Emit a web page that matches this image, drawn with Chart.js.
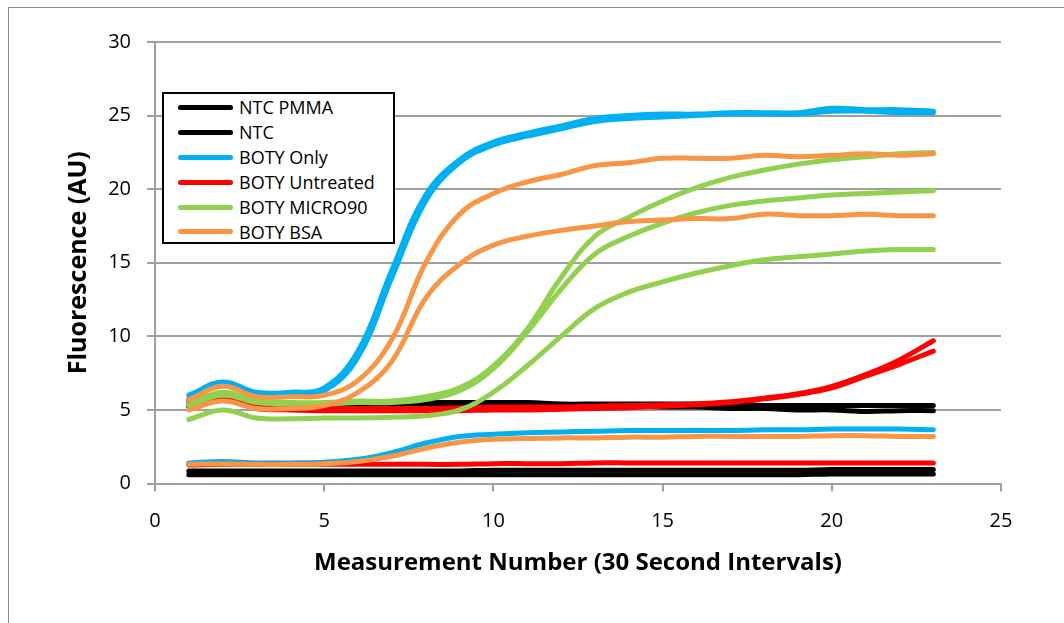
<!DOCTYPE html>
<html>
<head>
<meta charset="utf-8">
<script src="https://cdn.jsdelivr.net/npm/chart.js@4.4.1/dist/chart.umd.min.js"></script>
<style>
    html, body { margin: 0; padding: 0; background: #fff; overflow: hidden; }
    #wrap { position: relative; width: 1064px; height: 623px; }
    #frame { position: absolute; left: 8px; top: 7px; width: 1120px; height: 700px; border: 1px solid #8c8c8c; box-sizing: border-box; }
    #chart { position: absolute; left: 0; top: 0; }
    #legend {
        position: absolute; left: 162px; top: 92px; width: 233px; height: 152px;
        border: 2px solid #000; background: #fff; box-sizing: border-box;
        font-family: 'Open Sans', sans-serif; font-size: 18px; color: #000;
    }
    #legend .item { height: 24.9px; display: flex; align-items: center; }
    #legend .item:first-child { margin-top: 1px; }
    #legend .swatch { width: 55px; height: 5px; border-radius: 3px; margin-left: 14px; margin-right: 6px; }
</style>
</head>
<body>
<div id="wrap">
    <div id="frame"></div>
    <canvas id="chart" width="1064" height="623"></canvas>
    <div id="legend"></div>
</div>
<script>
'use strict';

// Measurement number (x)
const measurement = [1, 2, 3, 4, 5, 6, 7, 8, 9, 10, 11, 12, 13, 14, 15, 16, 17, 18, 19, 20, 21, 22, 23];

// NTC PMMA
const ntcPmmaA = [5.4, 5.9, 5.4, 5.4, 5.4, 5.4, 5.4, 5.5, 5.5, 5.5, 5.5, 5.4, 5.4, 5.4, 5.4, 5.4, 5.4, 5.3, 5.3, 5.3, 5.3, 5.3, 5.3];
const ntcPmmaB = [0.85, 0.85, 0.85, 0.85, 0.85, 0.85, 0.85, 0.85, 0.85, 0.9, 0.9, 0.9, 0.9, 0.9, 0.9, 0.9, 0.9, 0.9, 0.9, 0.95, 0.95, 0.95, 0.95];
// NTC
const ntcA = [5.2, 5.7, 5.2, 5.2, 5.2, 5.2, 5.2, 5.3, 5.3, 5.3, 5.3, 5.3, 5.3, 5.3, 5.2, 5.2, 5.1, 5.1, 5.0, 5.0, 4.9, 4.95, 4.95];
const ntcB = [0.6, 0.6, 0.6, 0.6, 0.6, 0.6, 0.6, 0.6, 0.6, 0.6, 0.6, 0.6, 0.6, 0.6, 0.6, 0.6, 0.6, 0.6, 0.6, 0.65, 0.65, 0.65, 0.65];
// BOTY Only
const onlyA = [6.0, 6.9, 6.2, 6.2, 6.5, 9.0, 14.5, 19.6, 22.0, 23.2, 23.8, 24.3, 24.8, 25.0, 25.1, 25.1, 25.2, 25.2, 25.2, 25.5, 25.4, 25.4, 25.3];
const onlyB = [5.8, 6.7, 6.0, 6.0, 6.3, 8.6, 14.0, 19.2, 21.8, 23.0, 23.6, 24.1, 24.6, 24.8, 24.9, 25.0, 25.1, 25.1, 25.1, 25.3, 25.3, 25.2, 25.2];
const onlyC = [1.4, 1.5, 1.4, 1.4, 1.45, 1.65, 2.1, 2.75, 3.2, 3.35, 3.45, 3.5, 3.55, 3.6, 3.6, 3.6, 3.6, 3.65, 3.65, 3.7, 3.7, 3.7, 3.65];
// BOTY Untreated
const untreatedA = [5.6, 6.0, 5.3, 5.2, 5.1, 5.1, 5.1, 5.1, 5.15, 5.2, 5.2, 5.2, 5.25, 5.3, 5.35, 5.4, 5.55, 5.8, 6.1, 6.6, 7.4, 8.4, 9.7];
const untreatedB = [5.4, 5.8, 5.1, 5.0, 4.95, 4.95, 4.95, 4.95, 4.95, 5.0, 5.0, 5.05, 5.1, 5.15, 5.25, 5.35, 5.5, 5.75, 6.05, 6.5, 7.3, 8.1, 9.0];
const untreatedC = [1.25, 1.3, 1.3, 1.3, 1.3, 1.3, 1.3, 1.3, 1.3, 1.35, 1.35, 1.35, 1.4, 1.4, 1.4, 1.4, 1.4, 1.4, 1.4, 1.4, 1.4, 1.4, 1.4];
// BOTY MICRO90
const micro90A = [5.4, 6.2, 5.6, 5.5, 5.5, 5.6, 5.6, 5.9, 6.5, 8.0, 10.5, 14.0, 16.8, 18.1, 19.2, 20.1, 20.8, 21.3, 21.7, 22.0, 22.2, 22.4, 22.5];
const micro90B = [5.3, 6.0, 5.5, 5.4, 5.4, 5.5, 5.5, 5.7, 6.3, 7.8, 10.3, 13.2, 15.6, 16.8, 17.7, 18.4, 18.9, 19.2, 19.4, 19.6, 19.7, 19.8, 19.9];
const micro90C = [4.35, 5.0, 4.45, 4.4, 4.45, 4.45, 4.5, 4.6, 5.0, 6.2, 8.0, 10.0, 11.9, 13.0, 13.7, 14.3, 14.8, 15.2, 15.4, 15.6, 15.8, 15.9, 15.9];
// BOTY BSA
const bsaA = [5.7, 6.6, 5.9, 5.9, 6.0, 7.0, 9.8, 15.0, 18.3, 19.7, 20.5, 21.0, 21.6, 21.8, 22.1, 22.1, 22.1, 22.3, 22.2, 22.3, 22.4, 22.3, 22.4];
const bsaB = [5.0, 5.6, 5.1, 5.1, 5.3, 6.2, 8.3, 12.6, 14.9, 16.2, 16.8, 17.2, 17.5, 17.8, 17.9, 18.0, 18.0, 18.3, 18.2, 18.2, 18.3, 18.2, 18.2];
const bsaC = [1.3, 1.35, 1.3, 1.3, 1.35, 1.5, 1.85, 2.4, 2.8, 3.0, 3.05, 3.1, 3.1, 3.15, 3.15, 3.2, 3.2, 3.2, 3.2, 3.25, 3.25, 3.2, 3.2];

const groupLabels = ['NTC PMMA', 'NTC', 'BOTY Only', 'BOTY Untreated', 'BOTY MICRO90', 'BOTY BSA'];
const groupColors = ['#000000', '#000000', '#00b0f0', '#ff0000', '#92d050', '#f79646'];
const groupSeries = [
    [ntcPmmaA, ntcPmmaB],
    [ntcA, ntcB],
    [onlyA, onlyB, onlyC],
    [untreatedA, untreatedB, untreatedC],
    [micro90A, micro90B, micro90C],
    [bsaA, bsaB, bsaC],
];

const yTicks = [0, 5, 10, 15, 20, 25, 30];
const xTicks = [0, 5, 10, 15, 20, 25];

const FONT = "'Open Sans', sans-serif";
const GRID = '#a0a0a0';

Chart.defaults.font.family = FONT;
Chart.defaults.color = '#000';

// one dataset per replicate; later groups are drawn on top
const datasets = [];
groupSeries.forEach((list, g) => {
    list.forEach(vals => {
        datasets.push({
            label: groupLabels[g],
            data: vals.map((v, i) => ({ x: measurement[i], y: v })),
            borderColor: groupColors[g],
            backgroundColor: groupColors[g],
            borderWidth: 5,
            borderCapStyle: 'round',
            borderJoinStyle: 'round',
            pointRadius: 0,
            tension: 0.4,
            fill: false,
        });
    });
});
datasets.forEach((d, i) => { d.order = datasets.length - i; });

new Chart(document.getElementById('chart'), {
    type: 'line',
    data: { datasets },
    options: {
        responsive: false,
        animation: false,
        devicePixelRatio: 1,
        layout: { padding: { left: 64, top: 42, right: 63, bottom: 45.5 } },
        plugins: { legend: { display: false }, tooltip: { enabled: false } },
        scales: {
            x: {
                type: 'linear',
                min: 0,
                max: 25,
                afterBuildTicks: s => { s.ticks = xTicks.map(v => ({ value: v })); },
                ticks: { font: { size: 20 }, padding: 18, color: '#000', maxRotation: 0 },
                grid: { drawOnChartArea: false, drawTicks: true, tickLength: 8, color: GRID, lineWidth: 2 },
                border: { color: GRID, width: 2 },
                title: {
                    display: true,
                    text: 'Measurement Number (30 Second Intervals)',
                    font: { size: 24, weight: 'bold' },
                    color: '#000',
                    padding: 0,
                },
                afterFit: s => { s.height = 94; },
            },
            y: {
                min: 0,
                max: 30,
                afterBuildTicks: s => { s.ticks = yTicks.map(v => ({ value: v })); },
                ticks: { font: { size: 20 }, padding: 16, color: '#000' },
                grid: { tickLength: 8, color: GRID, lineWidth: 2 },
                border: { color: GRID, width: 2 },
                title: {
                    display: true,
                    text: 'Fluorescence (AU)',
                    font: { size: 25, weight: 'bold' },
                    color: '#000',
                    padding: 0,
                },
                afterFit: s => { s.width = 91; },
            },
        },
    },
});

// legend box drawn as html, one entry per group
const legendEl = document.getElementById('legend');
groupLabels.forEach((lbl, g) => {
    const row = document.createElement('div');
    row.className = 'item';
    const sw = document.createElement('span');
    sw.className = 'swatch';
    sw.style.background = groupColors[g];
    const txt = document.createElement('span');
    txt.textContent = lbl;
    row.appendChild(sw);
    row.appendChild(txt);
    legendEl.appendChild(row);
});
</script>
</body>
</html>
